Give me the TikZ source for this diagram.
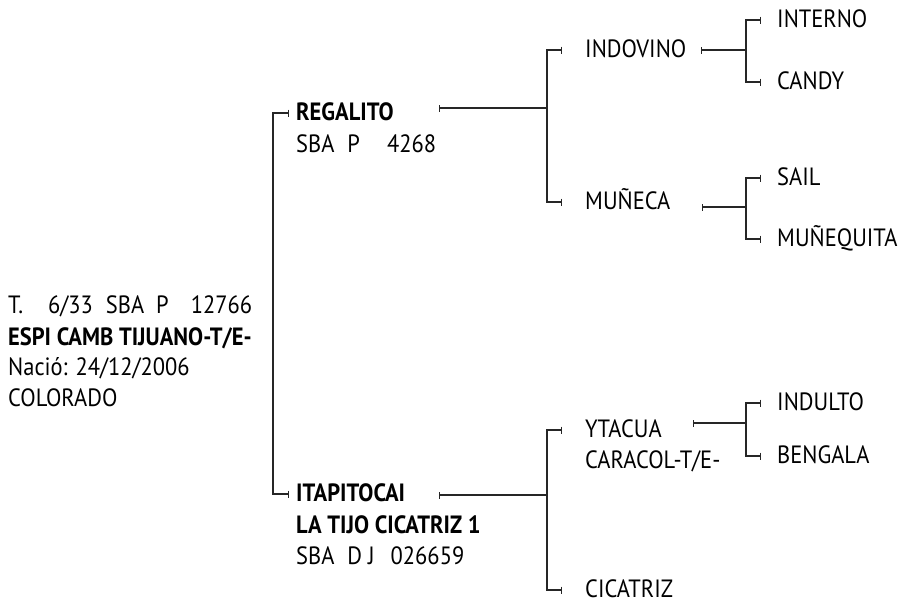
\documentclass[tikz,border=0pt]{standalone}
\usepackage{fontspec}
\setmainfont{PT Sans}[FakeStretch=0.9]
\usetikzlibrary{arrows.meta,positioning}

\tikzset{
  lnk/.style={line width=1.4pt, draw=black!85},
  stub/.style={lnk, -{Bar[width=7pt,line width=1.4pt]}},
  outl/.style={lnk, {Bar[width=7pt,line width=1.4pt]}-},
  txt/.style={inner ysep=0pt, font=\fontsize{25}{30}\selectfont, text height=15pt, text depth=0pt},
  bold/.style={font=\fontsize{25}{30}\selectfont\bfseries},
  gen1/.style={txt, anchor=west, inner xsep=7pt},
  gen2/.style={txt, anchor=west, inner xsep=23pt},
  gen3/.style={txt, anchor=west, inner xsep=16pt},
  rootline/.style={txt, anchor=base west, inner xsep=0pt}
}

\begin{document}
\begin{tikzpicture}[x=1pt,y=-1pt]
\useasboundingbox (0,0) rectangle (899,603);

% root
\node[rootline] (root-reg) at (8,313) {T.\hspace{25pt}6/33\hspace{13pt}SBA\hspace{12pt}P\hspace{22pt}12766};
\node[rootline,bold] (root) at (8,345) {ESPI CAMB TIJUANO-T/E-};
\node[rootline] (root-born) at (8,375) {Nació: 24/12/2006};
\node[rootline] (root-coat) at (8,406) {COLORADO};
\coordinate (j1) at (273,337);

% parents
\node[gen1,bold] (regalito) at (289,113) {REGALITO};
\node[gen1] (regalito-reg) at ([yshift=-32pt]regalito.west) {SBA\hspace{13pt}P\hspace{27pt}4268};
\node[gen1,bold] (itapitocai) at (289,494) {ITAPITOCAI};
\node[gen1,bold] (itapitocai-2) at ([yshift=-32pt]itapitocai.west) {LA TIJO CICATRIZ 1};
\node[gen1] (itapitocai-reg) at ([yshift=-63pt]itapitocai.west) {SBA\hspace{13pt}D\hspace{6pt}J\hspace{16pt}026659};

\draw[stub] (j1) |- (regalito.west);
\draw[stub] (j1) |- (itapitocai.west);

% grandparents
\node[gen2] (indovino) at (562,50) {INDOVINO};
\node[gen2] (muneca) at (562,202) {MUÑECA};
\node[gen2] (ytacua) at (562,430) {YTACUA};
\node[gen2] (ytacua-2) at ([yshift=-31pt]ytacua.west) {CARACOL-T/E-};
\node[gen2] (cicatriz) at (562,590) {CICATRIZ};

\coordinate (regalito-out) at (439,108);
\coordinate (j2a) at (547,108);
\coordinate (itapitocai-out) at (439,495);
\coordinate (j2b) at (547,495);

\draw[outl] (regalito-out) -- (j2a);
\draw[stub] (j2a) |- (indovino.west);
\draw[stub] (j2a) |- (muneca.west);
\draw[outl] (itapitocai-out) -- (j2b);
\draw[stub] (j2b) |- (ytacua.west);
\draw[stub] (j2b) |- (cicatriz.west);

% great-grandparents
\node[gen3] (interno) at (761,20) {INTERNO};
\node[gen3] (candy) at (761,82) {CANDY};
\node[gen3] (sail) at (761,178) {SAIL};
\node[gen3] (munequita) at (761,239) {MUÑEQUITA};
\node[gen3] (indulto) at (761,403) {INDULTO};
\node[gen3] (bengala) at (761,456) {BENGALA};

\coordinate (indovino-out) at (701,50);
\coordinate (j3a) at (746,50);
\coordinate (muneca-out) at (702,207);
\coordinate (j3b) at (746,207);
\coordinate (ytacua-out) at (693,423);
\coordinate (j3c) at (746,423);

\draw[outl] (indovino-out) -- (j3a);
\draw[stub] (j3a) |- (interno.west);
\draw[stub] (j3a) |- (candy.west);
\draw[outl] (muneca-out) -- (j3b);
\draw[stub] (j3b) |- (sail.west);
\draw[stub] (j3b) |- (munequita.west);
\draw[outl] (ytacua-out) -- (j3c);
\draw[stub] (j3c) |- (indulto.west);
\draw[stub] (j3c) |- (bengala.west);
\end{tikzpicture}
\end{document}
